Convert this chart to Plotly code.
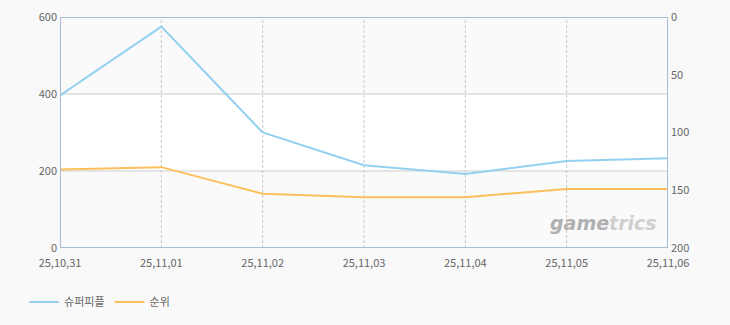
import plotly.graph_objects as go

dates = ["25,10,31", "25,11,01", "25,11,02", "25,11,03", "25,11,04", "25,11,05", "25,11,06"]
superpeople = [396, 575, 300, 215, 192, 226, 233]
rank = [132, 130, 153, 156, 156, 149, 149]

left_ticks = [0, 200, 400, 600]
right_ticks = [0, 50, 100, 150, 200]

xs = list(range(len(dates)))

fig = go.Figure()
fig.add_trace(go.Scatter(x=xs, y=superpeople, name="슈퍼피플", mode="lines",
                         line=dict(color="#94d0ef", width=2), yaxis="y"))
fig.add_trace(go.Scatter(x=xs, y=rank, name="순위", mode="lines",
                         line=dict(color="#fcbf5c", width=2), yaxis="y2"))

font = "Noto Sans CJK KR, DejaVu Sans, sans-serif"
shapes = []
for y0, y1, c in [(0, 200, "#fafafa"), (200, 400, "#ffffff"), (400, 600, "#fafafa")]:
    shapes.append(dict(type="rect", xref="x", yref="y", x0=0, x1=6, y0=y0, y1=y1,
                       fillcolor=c, line=dict(width=0), layer="below"))
for x in xs[1:-1]:
    shapes.append(dict(type="line", xref="x", yref="y", x0=x, x1=x, y0=0, y1=600,
                       line=dict(color="#c8c8c8", width=1, dash="3px,2px"), layer="below"))
for y in [200, 400]:
    shapes.append(dict(type="line", xref="x", yref="y", x0=0, x1=6, y0=y, y1=y,
                       line=dict(color="#cccccc", width=1), layer="below"))
shapes.append(dict(type="rect", xref="x", yref="y", x0=0, x1=6, y0=0, y1=600,
                   line=dict(color="#a9bcd2", width=2), layer="above"))

fig.update_layout(
    width=730, height=325,
    margin=dict(l=60, r=62, t=17, b=77, autoexpand=False),
    paper_bgcolor="#f9f9f9", plot_bgcolor="#fafafa",
    font=dict(family=font, size=11, color="#666666"),
    showlegend=True,
    legend=dict(orientation="h", xref="container", yref="container",
                x=0.033, xanchor="left", y=0.071, yanchor="middle",
                font=dict(size=11, color="#666666"), itemwidth=30,
                bgcolor="rgba(0,0,0,0)"),
    xaxis=dict(range=[0, 6], tickvals=xs, ticktext=dates, showgrid=False,
               zeroline=False, showline=False, ticks="", tickfont=dict(size=11),
               ticklabelstandoff=7),
    yaxis=dict(range=[0, 600], tickvals=left_ticks, showgrid=False, zeroline=False,
               showline=False, ticks="", ticklabelstandoff=2),
    yaxis2=dict(range=[200, 0], tickvals=right_ticks, overlaying="y", side="right",
                showgrid=False, zeroline=False, showline=False, ticks="",
                ticklabelstandoff=2),
    shapes=shapes,
    annotations=[
        dict(xref="paper", yref="paper", x=0.985, y=0.05, xanchor="right", yanchor="bottom",
             text="<b><i><span style='color:#b0b0b0'>game</span><span style='color:#cfcfcf'>trics</span></i></b>",
             showarrow=False, font=dict(size=19, family="DejaVu Sans, sans-serif")),
    ],
)
fig.write_html("out.html")
